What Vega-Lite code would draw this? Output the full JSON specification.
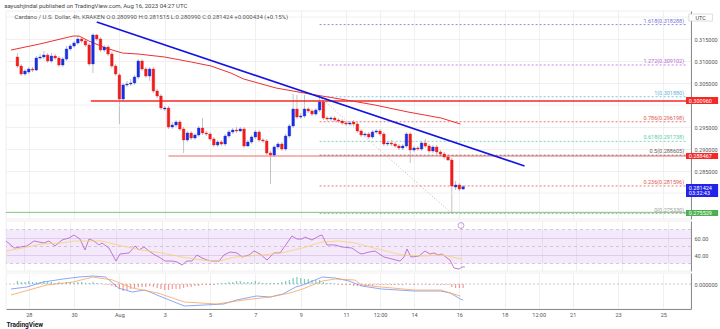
{
"$schema":"https://vega.github.io/schema/vega-lite/v6.json",
"padding":{"left":4,"top":2,"right":0,"bottom":0},
"background":"white",
"spacing":0,
"resolve":{"scale":{"color":"independent"}},
"title":{"text":"aayushjindal published on TradingView.com, Aug 16, 2023 04:27 UTC","anchor":"start","fontSize":6,"fontWeight":"normal","color":"#444","offset":2,"font":"Roboto"},
"config":{"view":{"stroke":"#e2e2e2","strokeWidth":0.6},"font":"Roboto","axisY":{"labelOverlap":false},"axis":{"labelOverlap":false}},
"datasets":{
"one":[{}],
"k":[
{"t":"2023-07-27T12:00:00Z","o":0.31091,"h":0.31182,"l":0.30841,"c":0.30886,"m":0.0003},
{"t":"2023-07-27T16:00:00Z","o":0.30886,"h":0.30932,"l":0.30659,"c":0.30705,"m":0.0002},
{"t":"2023-07-27T20:00:00Z","o":0.30705,"h":0.30818,"l":0.30659,"c":0.30773,"m":0.0002},
{"t":"2023-07-28T00:00:00Z","o":0.30750,"h":0.30864,"l":0.30705,"c":0.30818,"m":0.0003},
{"t":"2023-07-28T04:00:00Z","o":0.30818,"h":0.30864,"l":0.30750,"c":0.30795,"m":0.0002},
{"t":"2023-07-28T08:00:00Z","o":0.30795,"h":0.31114,"l":0.30773,"c":0.31068,"m":0.0002},
{"t":"2023-07-28T12:00:00Z","o":0.31068,"h":0.31159,"l":0.31023,"c":0.31091,"m":0.0002},
{"t":"2023-07-28T16:00:00Z","o":0.31091,"h":0.31227,"l":0.31045,"c":0.31136,"m":0.0003},
{"t":"2023-07-28T20:00:00Z","o":0.31136,"h":0.31182,"l":0.30955,"c":0.31000,"m":0.0002},
{"t":"2023-07-29T00:00:00Z","o":0.31000,"h":0.31182,"l":0.30955,"c":0.31114,"m":0.0002},
{"t":"2023-07-29T04:00:00Z","o":0.31114,"h":0.31159,"l":0.31023,"c":0.31068,"m":0.0001},
{"t":"2023-07-29T08:00:00Z","o":0.31068,"h":0.31114,"l":0.30864,"c":0.30909,"m":0.0002},
{"t":"2023-07-29T12:00:00Z","o":0.30909,"h":0.31091,"l":0.30864,"c":0.31045,"m":0.0001},
{"t":"2023-07-29T16:00:00Z","o":0.31045,"h":0.31341,"l":0.31000,"c":0.31273,"m":0.0002},
{"t":"2023-07-29T20:00:00Z","o":0.31273,"h":0.31386,"l":0.31227,"c":0.31341,"m":0.0002},
{"t":"2023-07-30T00:00:00Z","o":0.31341,"h":0.31455,"l":0.31295,"c":0.31409,"m":0.0001},
{"t":"2023-07-30T04:00:00Z","o":0.31409,"h":0.31568,"l":0.31364,"c":0.31500,"m":0.0002},
{"t":"2023-07-30T08:00:00Z","o":0.31500,"h":0.31545,"l":0.31409,"c":0.31455,"m":0.0002},
{"t":"2023-07-30T12:00:00Z","o":0.31455,"h":0.31500,"l":0.31318,"c":0.31364,"m":0.0001},
{"t":"2023-07-30T16:00:00Z","o":0.31364,"h":0.31409,"l":0.30886,"c":0.30932,"m":0.0001},
{"t":"2023-07-30T20:00:00Z","o":0.30932,"h":0.31636,"l":0.30727,"c":0.31591,"m":0.0002},
{"t":"2023-07-31T00:00:00Z","o":0.31591,"h":0.31614,"l":0.31455,"c":0.31500,"m":0.0001},
{"t":"2023-07-31T04:00:00Z","o":0.31500,"h":0.31545,"l":0.31205,"c":0.31250,"m":0.00005},
{"t":"2023-07-31T08:00:00Z","o":0.31250,"h":0.31364,"l":0.31205,"c":0.31318,"m":-0.00005},
{"t":"2023-07-31T12:00:00Z","o":0.31318,"h":0.31364,"l":0.31114,"c":0.31159,"m":-0.0001},
{"t":"2023-07-31T16:00:00Z","o":0.31159,"h":0.31205,"l":0.30841,"c":0.30886,"m":-0.0002},
{"t":"2023-07-31T20:00:00Z","o":0.30886,"h":0.30932,"l":0.30659,"c":0.30705,"m":-0.0003},
{"t":"2023-08-01T00:00:00Z","o":0.30682,"h":0.30727,"l":0.29568,"c":0.30136,"m":-0.0005},
{"t":"2023-08-01T04:00:00Z","o":0.30136,"h":0.30500,"l":0.30091,"c":0.30455,"m":-0.0007},
{"t":"2023-08-01T08:00:00Z","o":0.30455,"h":0.30545,"l":0.30409,"c":0.30477,"m":-0.0006},
{"t":"2023-08-01T12:00:00Z","o":0.30477,"h":0.30591,"l":0.30432,"c":0.30500,"m":-0.0005},
{"t":"2023-08-01T16:00:00Z","o":0.30500,"h":0.30682,"l":0.30455,"c":0.30636,"m":-0.0004},
{"t":"2023-08-01T20:00:00Z","o":0.30636,"h":0.31045,"l":0.30591,"c":0.31000,"m":-0.0003},
{"t":"2023-08-02T00:00:00Z","o":0.31000,"h":0.31045,"l":0.30773,"c":0.30818,"m":-0.0003},
{"t":"2023-08-02T04:00:00Z","o":0.30818,"h":0.30864,"l":0.30614,"c":0.30659,"m":-0.0003},
{"t":"2023-08-02T08:00:00Z","o":0.30659,"h":0.30864,"l":0.30545,"c":0.30818,"m":-0.0002},
{"t":"2023-08-02T12:00:00Z","o":0.30818,"h":0.30864,"l":0.30273,"c":0.30318,"m":-0.0003},
{"t":"2023-08-02T16:00:00Z","o":0.30318,"h":0.30364,"l":0.30159,"c":0.30205,"m":-0.0004},
{"t":"2023-08-02T20:00:00Z","o":0.30205,"h":0.30250,"l":0.29886,"c":0.29932,"m":-0.0005},
{"t":"2023-08-03T00:00:00Z","o":0.29909,"h":0.29977,"l":0.29864,"c":0.29932,"m":-0.0006},
{"t":"2023-08-03T04:00:00Z","o":0.29932,"h":0.29977,"l":0.29455,"c":0.29500,"m":-0.0006},
{"t":"2023-08-03T08:00:00Z","o":0.29500,"h":0.29614,"l":0.29455,"c":0.29545,"m":-0.0005},
{"t":"2023-08-03T12:00:00Z","o":0.29545,"h":0.29659,"l":0.29500,"c":0.29614,"m":-0.0005},
{"t":"2023-08-03T16:00:00Z","o":0.29614,"h":0.29659,"l":0.29409,"c":0.29455,"m":-0.0005},
{"t":"2023-08-03T20:00:00Z","o":0.29455,"h":0.29500,"l":0.28909,"c":0.29205,"m":-0.0004},
{"t":"2023-08-04T00:00:00Z","o":0.29205,"h":0.29409,"l":0.29159,"c":0.29364,"m":-0.0003},
{"t":"2023-08-04T04:00:00Z","o":0.29364,"h":0.29409,"l":0.29205,"c":0.29250,"m":-0.0003},
{"t":"2023-08-04T08:00:00Z","o":0.29250,"h":0.29364,"l":0.29205,"c":0.29318,"m":-0.0002},
{"t":"2023-08-04T12:00:00Z","o":0.29318,"h":0.29523,"l":0.29273,"c":0.29477,"m":-0.0002},
{"t":"2023-08-04T16:00:00Z","o":0.29477,"h":0.29705,"l":0.29318,"c":0.29364,"m":-0.0001},
{"t":"2023-08-04T20:00:00Z","o":0.29364,"h":0.29409,"l":0.29295,"c":0.29341,"m":-0.0001},
{"t":"2023-08-05T00:00:00Z","o":0.29341,"h":0.29386,"l":0.29182,"c":0.29227,"m":-0.0001},
{"t":"2023-08-05T04:00:00Z","o":0.29227,"h":0.29273,"l":0.29045,"c":0.29091,"m":-0.0001},
{"t":"2023-08-05T08:00:00Z","o":0.29091,"h":0.29205,"l":0.29045,"c":0.29159,"m":0.00005},
{"t":"2023-08-05T12:00:00Z","o":0.29159,"h":0.29205,"l":0.29068,"c":0.29114,"m":0.0001},
{"t":"2023-08-05T16:00:00Z","o":0.29114,"h":0.29341,"l":0.29068,"c":0.29295,"m":0.0001},
{"t":"2023-08-05T20:00:00Z","o":0.29295,"h":0.29432,"l":0.29250,"c":0.29386,"m":0.0002},
{"t":"2023-08-06T00:00:00Z","o":0.29386,"h":0.29477,"l":0.29341,"c":0.29432,"m":0.0002},
{"t":"2023-08-06T04:00:00Z","o":0.29432,"h":0.29500,"l":0.29364,"c":0.29409,"m":0.0003},
{"t":"2023-08-06T08:00:00Z","o":0.29409,"h":0.29500,"l":0.29386,"c":0.29455,"m":0.0003},
{"t":"2023-08-06T12:00:00Z","o":0.29455,"h":0.29500,"l":0.29023,"c":0.29068,"m":0.0002},
{"t":"2023-08-06T16:00:00Z","o":0.29068,"h":0.29205,"l":0.29045,"c":0.29159,"m":0.0002},
{"t":"2023-08-06T20:00:00Z","o":0.29159,"h":0.29318,"l":0.29114,"c":0.29273,"m":0.0002},
{"t":"2023-08-07T00:00:00Z","o":0.29273,"h":0.29432,"l":0.29227,"c":0.29386,"m":0.0003},
{"t":"2023-08-07T04:00:00Z","o":0.29386,"h":0.29432,"l":0.29159,"c":0.29205,"m":0.0002},
{"t":"2023-08-07T08:00:00Z","o":0.29205,"h":0.29250,"l":0.29136,"c":0.29182,"m":0.0001},
{"t":"2023-08-07T12:00:00Z","o":0.29182,"h":0.29227,"l":0.28864,"c":0.28909,"m":0.0001},
{"t":"2023-08-07T16:00:00Z","o":0.28909,"h":0.28955,"l":0.28205,"c":0.28864,"m":0.0001},
{"t":"2023-08-07T20:00:00Z","o":0.28864,"h":0.29091,"l":0.28818,"c":0.29045,"m":0.0001},
{"t":"2023-08-08T00:00:00Z","o":0.29045,"h":0.29159,"l":0.29000,"c":0.29114,"m":0.0001},
{"t":"2023-08-08T04:00:00Z","o":0.29114,"h":0.29159,"l":0.28955,"c":0.29000,"m":0.0002},
{"t":"2023-08-08T08:00:00Z","o":0.29000,"h":0.29341,"l":0.28955,"c":0.29295,"m":0.0003},
{"t":"2023-08-08T12:00:00Z","o":0.29295,"h":0.29568,"l":0.29250,"c":0.29523,"m":0.0004},
{"t":"2023-08-08T16:00:00Z","o":0.29523,"h":0.30250,"l":0.29477,"c":0.29909,"m":0.0006},
{"t":"2023-08-08T20:00:00Z","o":0.29909,"h":0.30227,"l":0.29682,"c":0.29727,"m":0.0007},
{"t":"2023-08-09T00:00:00Z","o":0.29727,"h":0.29818,"l":0.29682,"c":0.29750,"m":0.0006},
{"t":"2023-08-09T04:00:00Z","o":0.29750,"h":0.30227,"l":0.29705,"c":0.29909,"m":0.0005},
{"t":"2023-08-09T08:00:00Z","o":0.29909,"h":0.29955,"l":0.29818,"c":0.29864,"m":0.0005},
{"t":"2023-08-09T12:00:00Z","o":0.29864,"h":0.29909,"l":0.29750,"c":0.29795,"m":0.0004},
{"t":"2023-08-09T16:00:00Z","o":0.29795,"h":0.29932,"l":0.29750,"c":0.29886,"m":0.0004},
{"t":"2023-08-09T20:00:00Z","o":0.29886,"h":0.30188,"l":0.29841,"c":0.30068,"m":0.0004},
{"t":"2023-08-10T00:00:00Z","o":0.30068,"h":0.30114,"l":0.29659,"c":0.29705,"m":0.0002},
{"t":"2023-08-10T04:00:00Z","o":0.29705,"h":0.29750,"l":0.29636,"c":0.29682,"m":0.0001},
{"t":"2023-08-10T08:00:00Z","o":0.29682,"h":0.29750,"l":0.29636,"c":0.29705,"m":0.0001},
{"t":"2023-08-10T12:00:00Z","o":0.29705,"h":0.29750,"l":0.29614,"c":0.29659,"m":0.00005},
{"t":"2023-08-10T16:00:00Z","o":0.29659,"h":0.29705,"l":0.29591,"c":0.29636,"m":-0.00005},
{"t":"2023-08-10T20:00:00Z","o":0.29636,"h":0.29682,"l":0.29545,"c":0.29591,"m":-0.0001},
{"t":"2023-08-11T00:00:00Z","o":0.29591,"h":0.29636,"l":0.29523,"c":0.29568,"m":-0.0001},
{"t":"2023-08-11T04:00:00Z","o":0.29568,"h":0.29636,"l":0.29523,"c":0.29591,"m":-0.0001},
{"t":"2023-08-11T08:00:00Z","o":0.29614,"h":0.29659,"l":0.29523,"c":0.29568,"m":-0.0002},
{"t":"2023-08-11T12:00:00Z","o":0.29568,"h":0.29614,"l":0.29364,"c":0.29409,"m":-0.0002},
{"t":"2023-08-11T16:00:00Z","o":0.29409,"h":0.29455,"l":0.29273,"c":0.29318,"m":-0.0002},
{"t":"2023-08-11T20:00:00Z","o":0.29318,"h":0.29386,"l":0.29273,"c":0.29341,"m":-0.0002},
{"t":"2023-08-12T00:00:00Z","o":0.29341,"h":0.29386,"l":0.29227,"c":0.29273,"m":-0.0002},
{"t":"2023-08-12T04:00:00Z","o":0.29273,"h":0.29432,"l":0.29227,"c":0.29386,"m":-0.0002},
{"t":"2023-08-12T08:00:00Z","o":0.29386,"h":0.29455,"l":0.29341,"c":0.29409,"m":-0.0001},
{"t":"2023-08-12T12:00:00Z","o":0.29409,"h":0.29455,"l":0.29295,"c":0.29341,"m":-0.0001},
{"t":"2023-08-12T16:00:00Z","o":0.29341,"h":0.29386,"l":0.29068,"c":0.29114,"m":-0.0001},
{"t":"2023-08-12T20:00:00Z","o":0.29114,"h":0.29182,"l":0.29068,"c":0.29136,"m":-0.0001},
{"t":"2023-08-13T00:00:00Z","o":0.29136,"h":0.29205,"l":0.29068,"c":0.29114,"m":-0.0001},
{"t":"2023-08-13T04:00:00Z","o":0.29114,"h":0.29159,"l":0.29023,"c":0.29068,"m":-0.0001},
{"t":"2023-08-13T08:00:00Z","o":0.29068,"h":0.29114,"l":0.28977,"c":0.29023,"m":-0.0001},
{"t":"2023-08-13T12:00:00Z","o":0.29023,"h":0.29114,"l":0.28977,"c":0.29068,"m":-0.0001},
{"t":"2023-08-13T16:00:00Z","o":0.29068,"h":0.29386,"l":0.29023,"c":0.29341,"m":0.00005},
{"t":"2023-08-13T20:00:00Z","o":0.29341,"h":0.29386,"l":0.28682,"c":0.28977,"m":-0.00005},
{"t":"2023-08-14T00:00:00Z","o":0.28977,"h":0.29068,"l":0.28932,"c":0.29023,"m":-0.0001},
{"t":"2023-08-14T04:00:00Z","o":0.29023,"h":0.29068,"l":0.28955,"c":0.29000,"m":-0.00005},
{"t":"2023-08-14T08:00:00Z","o":0.29000,"h":0.29182,"l":0.28955,"c":0.29136,"m":-0.00005},
{"t":"2023-08-14T12:00:00Z","o":0.29136,"h":0.29227,"l":0.29023,"c":0.29068,"m":-0.00005},
{"t":"2023-08-14T16:00:00Z","o":0.29068,"h":0.29114,"l":0.28909,"c":0.28955,"m":-0.0001},
{"t":"2023-08-14T20:00:00Z","o":0.28955,"h":0.29091,"l":0.28909,"c":0.29045,"m":-0.00005},
{"t":"2023-08-15T00:00:00Z","o":0.29045,"h":0.29091,"l":0.28886,"c":0.28932,"m":-0.0001},
{"t":"2023-08-15T04:00:00Z","o":0.28932,"h":0.28977,"l":0.28841,"c":0.28886,"m":-0.0001},
{"t":"2023-08-15T08:00:00Z","o":0.28886,"h":0.28932,"l":0.28773,"c":0.28818,"m":-0.0001},
{"t":"2023-08-15T12:00:00Z","o":0.28818,"h":0.28864,"l":0.28727,"c":0.28750,"m":-0.0001},
{"t":"2023-08-15T16:00:00Z","o":0.28750,"h":0.28795,"l":0.27533,"c":0.28159,"m":-0.0003},
{"t":"2023-08-15T20:00:00Z","o":0.28136,"h":0.28273,"l":0.28068,"c":0.28182,"m":-0.0004},
{"t":"2023-08-16T00:00:00Z","o":0.28182,"h":0.28227,"l":0.28045,"c":0.28091,"m":-0.0004},
{"t":"2023-08-16T04:00:00Z","o":0.28091,"h":0.28182,"l":0.28068,"c":0.28142,"m":-0.0004}
],
"ema":[
{"t":"2023-07-27T05:15:00Z","v":0.31250},{"t":"2023-07-28T11:30:00Z","v":0.31386},{"t":"2023-07-29T23:00:00Z","v":0.31568},{"t":"2023-07-30T05:15:00Z","v":0.31568},{"t":"2023-07-30T15:40:00Z","v":0.31455},{"t":"2023-07-31T09:25:00Z","v":0.31295},{"t":"2023-08-01T03:10:00Z","v":0.31182},{"t":"2023-08-01T19:50:00Z","v":0.31159},{"t":"2023-08-03T00:00:00Z","v":0.31091},{"t":"2023-08-04T04:10:00Z","v":0.30977},{"t":"2023-08-05T01:05:00Z","v":0.30886},{"t":"2023-08-05T22:00:00Z","v":0.30727},{"t":"2023-08-06T11:35:00Z","v":0.30591},{"t":"2023-08-07T22:00:00Z","v":0.30386},{"t":"2023-08-09T09:40:00Z","v":0.30250},{"t":"2023-08-11T06:20:00Z","v":0.30091},{"t":"2023-08-12T06:30:00Z","v":0.30000},{"t":"2023-08-13T17:40:00Z","v":0.29841},{"t":"2023-08-15T04:30:00Z","v":0.29705},{"t":"2023-08-16T01:10:00Z","v":0.29568}
],
"fib":[
{"level":"1.618","price":0.318288,"label":"1.618(0.318288)"},
{"level":"1.272","price":0.309102,"label":"1.272(0.309102)"},
{"level":"1","price":0.301880,"label":"1(0.301880)"},
{"level":"0.786","price":0.296198,"label":"0.786(0.296198)"},
{"level":"0.618","price":0.291738,"label":"0.618(0.291738)"},
{"level":"0.5","price":0.288605,"label":"0.5(0.288605)"},
{"level":"0.236","price":0.281596,"label":"0.236(0.281596)"},
{"level":"0","price":0.275330,"label":"0(0.275330)"}
],
"rsi":[
{"t":"2023-07-27T05:15:00Z","v":56.5,"s":"RSI"},{"t":"2023-07-27T14:00:00Z","v":48.2,"s":"RSI"},{"t":"2023-07-27T20:00:00Z","v":49.4,"s":"RSI"},{"t":"2023-07-28T03:00:00Z","v":50.6,"s":"RSI"},{"t":"2023-07-28T10:30:00Z","v":56.5,"s":"RSI"},{"t":"2023-07-28T15:40:00Z","v":55.3,"s":"RSI"},{"t":"2023-07-28T20:50:00Z","v":54.1,"s":"RSI"},{"t":"2023-07-29T02:05:00Z","v":56.5,"s":"RSI"},{"t":"2023-07-29T08:20:00Z","v":50.6,"s":"RSI"},{"t":"2023-07-29T15:40:00Z","v":57.6,"s":"RSI"},{"t":"2023-07-29T23:00:00Z","v":60.0,"s":"RSI"},{"t":"2023-07-30T04:10:00Z","v":63.5,"s":"RSI"},{"t":"2023-07-30T10:25:00Z","v":58.8,"s":"RSI"},{"t":"2023-07-30T15:40:00Z","v":45.9,"s":"RSI"},{"t":"2023-07-30T19:50:00Z","v":58.8,"s":"RSI"},{"t":"2023-07-31T01:00:00Z","v":56.5,"s":"RSI"},{"t":"2023-07-31T06:15:00Z","v":51.8,"s":"RSI"},{"t":"2023-07-31T09:25:00Z","v":54.1,"s":"RSI"},{"t":"2023-07-31T16:40:00Z","v":48.2,"s":"RSI"},{"t":"2023-08-01T00:00:00Z","v":32.9,"s":"RSI"},{"t":"2023-08-01T04:10:00Z","v":41.2,"s":"RSI"},{"t":"2023-08-01T13:35:00Z","v":42.4,"s":"RSI"},{"t":"2023-08-01T19:50:00Z","v":50.6,"s":"RSI"},{"t":"2023-08-02T00:00:00Z","v":45.9,"s":"RSI"},{"t":"2023-08-02T05:10:00Z","v":49.4,"s":"RSI"},{"t":"2023-08-02T10:25:00Z","v":44.7,"s":"RSI"},{"t":"2023-08-02T16:40:00Z","v":40.0,"s":"RSI"},{"t":"2023-08-02T20:50:00Z","v":37.6,"s":"RSI"},{"t":"2023-08-03T03:10:00Z","v":32.9,"s":"RSI"},{"t":"2023-08-03T10:25:00Z","v":32.9,"s":"RSI"},{"t":"2023-08-03T15:40:00Z","v":31.8,"s":"RSI"},{"t":"2023-08-03T20:50:00Z","v":28.2,"s":"RSI"},{"t":"2023-08-04T02:05:00Z","v":32.9,"s":"RSI"},{"t":"2023-08-04T07:15:00Z","v":32.9,"s":"RSI"},{"t":"2023-08-04T12:30:00Z","v":40.0,"s":"RSI"},{"t":"2023-08-04T17:45:00Z","v":36.5,"s":"RSI"},{"t":"2023-08-04T23:00:00Z","v":34.1,"s":"RSI"},{"t":"2023-08-05T04:10:00Z","v":32.9,"s":"RSI"},{"t":"2023-08-05T11:30:00Z","v":32.9,"s":"RSI"},{"t":"2023-08-05T16:40:00Z","v":40.0,"s":"RSI"},{"t":"2023-08-05T23:00:00Z","v":43.5,"s":"RSI"},{"t":"2023-08-06T06:15:00Z","v":42.4,"s":"RSI"},{"t":"2023-08-06T11:30:00Z","v":37.6,"s":"RSI"},{"t":"2023-08-06T18:45:00Z","v":40.0,"s":"RSI"},{"t":"2023-08-07T00:00:00Z","v":44.7,"s":"RSI"},{"t":"2023-08-07T06:15:00Z","v":41.2,"s":"RSI"},{"t":"2023-08-07T13:35:00Z","v":34.1,"s":"RSI"},{"t":"2023-08-07T20:50:00Z","v":42.4,"s":"RSI"},{"t":"2023-08-08T03:10:00Z","v":42.4,"s":"RSI"},{"t":"2023-08-08T08:20:00Z","v":50.6,"s":"RSI"},{"t":"2023-08-08T15:40:00Z","v":62.4,"s":"RSI"},{"t":"2023-08-08T20:50:00Z","v":58.8,"s":"RSI"},{"t":"2023-08-09T02:05:00Z","v":58.8,"s":"RSI"},{"t":"2023-08-09T05:10:00Z","v":61.2,"s":"RSI"},{"t":"2023-08-09T12:30:00Z","v":57.6,"s":"RSI"},{"t":"2023-08-09T19:50:00Z","v":62.4,"s":"RSI"},{"t":"2023-08-09T23:00:00Z","v":63.5,"s":"RSI"},{"t":"2023-08-10T04:10:00Z","v":51.8,"s":"RSI"},{"t":"2023-08-10T12:30:00Z","v":51.8,"s":"RSI"},{"t":"2023-08-10T19:50:00Z","v":49.4,"s":"RSI"},{"t":"2023-08-11T06:15:00Z","v":48.2,"s":"RSI"},{"t":"2023-08-11T13:35:00Z","v":42.4,"s":"RSI"},{"t":"2023-08-11T16:40:00Z","v":41.2,"s":"RSI"},{"t":"2023-08-12T00:00:00Z","v":43.5,"s":"RSI"},{"t":"2023-08-12T06:15:00Z","v":44.7,"s":"RSI"},{"t":"2023-08-12T15:40:00Z","v":37.6,"s":"RSI"},{"t":"2023-08-13T00:00:00Z","v":35.3,"s":"RSI"},{"t":"2023-08-13T08:20:00Z","v":32.9,"s":"RSI"},{"t":"2023-08-13T12:30:00Z","v":37.6,"s":"RSI"},{"t":"2023-08-13T15:40:00Z","v":47.1,"s":"RSI"},{"t":"2023-08-13T19:50:00Z","v":37.6,"s":"RSI"},{"t":"2023-08-14T04:10:00Z","v":38.8,"s":"RSI"},{"t":"2023-08-14T10:25:00Z","v":44.7,"s":"RSI"},{"t":"2023-08-14T15:40:00Z","v":41.2,"s":"RSI"},{"t":"2023-08-14T19:50:00Z","v":42.4,"s":"RSI"},{"t":"2023-08-15T00:00:00Z","v":40.0,"s":"RSI"},{"t":"2023-08-15T04:10:00Z","v":41.2,"s":"RSI"},{"t":"2023-08-15T09:25:00Z","v":36.5,"s":"RSI"},{"t":"2023-08-15T12:30:00Z","v":34.1,"s":"RSI"},{"t":"2023-08-15T16:40:00Z","v":24.7,"s":"RSI"},{"t":"2023-08-15T21:55:00Z","v":23.5,"s":"RSI"},{"t":"2023-08-16T01:00:00Z","v":25.9,"s":"RSI"},{"t":"2023-08-16T04:00:00Z","v":25.9,"s":"RSI"},
{"t":"2023-07-27T05:15:00Z","v":44.7,"s":"MA"},{"t":"2023-07-27T22:00:00Z","v":48.2,"s":"MA"},{"t":"2023-07-28T18:45:00Z","v":52.9,"s":"MA"},{"t":"2023-07-29T15:40:00Z","v":54.1,"s":"MA"},{"t":"2023-07-30T04:10:00Z","v":56.5,"s":"MA"},{"t":"2023-07-31T09:25:00Z","v":56.5,"s":"MA"},{"t":"2023-08-01T06:15:00Z","v":50.6,"s":"MA"},{"t":"2023-08-02T03:10:00Z","v":45.9,"s":"MA"},{"t":"2023-08-03T00:00:00Z","v":42.4,"s":"MA"},{"t":"2023-08-03T20:50:00Z","v":37.6,"s":"MA"},{"t":"2023-08-04T17:45:00Z","v":34.1,"s":"MA"},{"t":"2023-08-05T11:30:00Z","v":32.9,"s":"MA"},{"t":"2023-08-06T04:10:00Z","v":37.6,"s":"MA"},{"t":"2023-08-07T08:20:00Z","v":40.0,"s":"MA"},{"t":"2023-08-08T05:10:00Z","v":42.4,"s":"MA"},{"t":"2023-08-09T02:05:00Z","v":48.2,"s":"MA"},{"t":"2023-08-09T23:00:00Z","v":55.3,"s":"MA"},{"t":"2023-08-10T16:40:00Z","v":56.5,"s":"MA"},{"t":"2023-08-11T09:25:00Z","v":54.1,"s":"MA"},{"t":"2023-08-11T16:40:00Z","v":51.8,"s":"MA"},{"t":"2023-08-12T13:35:00Z","v":45.9,"s":"MA"},{"t":"2023-08-13T10:25:00Z","v":40.0,"s":"MA"},{"t":"2023-08-14T07:15:00Z","v":38.8,"s":"MA"},{"t":"2023-08-15T04:10:00Z","v":40.0,"s":"MA"},{"t":"2023-08-16T01:00:00Z","v":35.3,"s":"MA"}
],
"macd":[
{"t":"2023-07-27T05:15:00Z","v":-0.0005,"s":"MACD"},{"t":"2023-07-27T22:00:00Z","v":-0.0003,"s":"MACD"},{"t":"2023-07-28T15:40:00Z","v":0.0002,"s":"MACD"},{"t":"2023-07-29T12:30:00Z","v":0.0005,"s":"MACD"},{"t":"2023-07-30T05:15:00Z","v":0.0007,"s":"MACD"},{"t":"2023-07-30T19:50:00Z","v":0.0008,"s":"MACD"},{"t":"2023-07-31T09:25:00Z","v":0.0007,"s":"MACD"},{"t":"2023-07-31T23:00:00Z","v":-0.0004,"s":"MACD"},{"t":"2023-08-01T13:35:00Z","v":-0.0008,"s":"MACD"},{"t":"2023-08-02T03:10:00Z","v":-0.0006,"s":"MACD"},{"t":"2023-08-02T20:50:00Z","v":-0.0013,"s":"MACD"},{"t":"2023-08-03T20:50:00Z","v":-0.0022,"s":"MACD"},{"t":"2023-08-04T17:45:00Z","v":-0.0021,"s":"MACD"},{"t":"2023-08-05T14:25:00Z","v":-0.0020,"s":"MACD"},{"t":"2023-08-06T04:10:00Z","v":-0.0016,"s":"MACD"},{"t":"2023-08-07T01:00:00Z","v":-0.0012,"s":"MACD"},{"t":"2023-08-07T15:40:00Z","v":-0.0013,"s":"MACD"},{"t":"2023-08-08T05:10:00Z","v":-0.0010,"s":"MACD"},{"t":"2023-08-08T18:45:00Z","v":-0.0003,"s":"MACD"},{"t":"2023-08-09T02:05:00Z","v":-0.0001,"s":"MACD"},{"t":"2023-08-09T23:00:00Z","v":0.0007,"s":"MACD"},{"t":"2023-08-10T12:30:00Z","v":0.0006,"s":"MACD"},{"t":"2023-08-11T03:10:00Z","v":0.0003,"s":"MACD"},{"t":"2023-08-11T16:40:00Z","v":-0.0002,"s":"MACD"},{"t":"2023-08-12T13:35:00Z","v":-0.0005,"s":"MACD"},{"t":"2023-08-14T00:00:00Z","v":-0.0007,"s":"MACD"},{"t":"2023-08-15T04:10:00Z","v":-0.0007,"s":"MACD"},{"t":"2023-08-15T14:25:00Z","v":-0.0009,"s":"MACD"},{"t":"2023-08-16T01:00:00Z","v":-0.0015,"s":"MACD"},{"t":"2023-08-16T04:00:00Z","v":-0.0016,"s":"MACD"},
{"t":"2023-07-27T05:15:00Z","v":-0.0011,"s":"Signal"},{"t":"2023-07-28T18:45:00Z","v":-0.0001,"s":"Signal"},{"t":"2023-07-29T23:00:00Z","v":0.0002,"s":"Signal"},{"t":"2023-07-30T19:50:00Z","v":0.0007,"s":"Signal"},{"t":"2023-07-31T16:40:00Z","v":0.0004,"s":"Signal"},{"t":"2023-08-01T13:35:00Z","v":-0.0004,"s":"Signal"},{"t":"2023-08-02T16:40:00Z","v":-0.0009,"s":"Signal"},{"t":"2023-08-03T20:50:00Z","v":-0.0018,"s":"Signal"},{"t":"2023-08-05T07:15:00Z","v":-0.0020,"s":"Signal"},{"t":"2023-08-06T11:30:00Z","v":-0.0016,"s":"Signal"},{"t":"2023-08-07T15:40:00Z","v":-0.0013,"s":"Signal"},{"t":"2023-08-08T12:30:00Z","v":-0.0009,"s":"Signal"},{"t":"2023-08-09T02:05:00Z","v":-0.0005,"s":"Signal"},{"t":"2023-08-09T23:00:00Z","v":0.0003,"s":"Signal"},{"t":"2023-08-10T12:30:00Z","v":0.0005,"s":"Signal"},{"t":"2023-08-11T09:25:00Z","v":0.0004,"s":"Signal"},{"t":"2023-08-11T16:40:00Z","v":-0.0001,"s":"Signal"},{"t":"2023-08-12T13:35:00Z","v":-0.0003,"s":"Signal"},{"t":"2023-08-14T00:00:00Z","v":-0.0006,"s":"Signal"},{"t":"2023-08-15T04:10:00Z","v":-0.0006,"s":"Signal"},{"t":"2023-08-16T01:00:00Z","v":-0.0012,"s":"Signal"}
]
},
"vconcat":[
{
"width":685,"height":208,
"layer":[
{"data":{"name":"k"},"mark":{"type":"rule","color":"#9a9a9a","strokeWidth":0.6},
 "encoding":{
  "x":{"field":"t","type":"temporal","scale":{"type":"utc","domain":[{"year":2023,"month":7,"date":27,"hours":5,"minutes":13,"utc":true},{"year":2023,"month":8,"date":26,"utc":true}]},
   "axis":{"values":[{"year":2023,"month":7,"date":28,"utc":true},{"year":2023,"month":7,"date":30,"utc":true},{"year":2023,"month":8,"date":1,"utc":true},{"year":2023,"month":8,"date":3,"utc":true},{"year":2023,"month":8,"date":5,"utc":true},{"year":2023,"month":8,"date":7,"utc":true},{"year":2023,"month":8,"date":9,"utc":true},{"year":2023,"month":8,"date":11,"utc":true},{"year":2023,"month":8,"date":12,"hours":12,"utc":true},{"year":2023,"month":8,"date":14,"utc":true},{"year":2023,"month":8,"date":16,"utc":true},{"year":2023,"month":8,"date":18,"utc":true},{"year":2023,"month":8,"date":19,"hours":12,"utc":true},{"year":2023,"month":8,"date":21,"utc":true},{"year":2023,"month":8,"date":23,"utc":true},{"year":2023,"month":8,"date":25,"utc":true}],"grid":true,"gridColor":"#ececec","gridWidth":0.8,"labels":false,"ticks":false,"domain":false,"title":null}},
  "y":{"field":"l","type":"quantitative","scale":{"domain":[0.27409,0.32137],"nice":false,"zero":false},
   "axis":{"orient":"right","values":[0.285,0.29,0.295,0.305,0.31,0.315],"format":".6f","labelOverlap":false,"grid":true,"gridColor":"#ececec","gridWidth":0.8,"ticks":false,"domain":true,"domainColor":"#8a8a8a","labelFontSize":5.5,"labelColor":"#555","labelPadding":3,"title":null}},
  "y2":{"field":"h"}}},
{"data":{"name":"one"},"mark":{"type":"rule","color":"#ececec","strokeWidth":0.8},"encoding":{"y":{"datum":0.32}}},
{"data":{"name":"one"},"mark":{"type":"rule","color":"#ececec","strokeWidth":0.8},"encoding":{"y":{"datum":0.30}}},
{"data":{"name":"one"},"mark":{"type":"rule","color":"#ececec","strokeWidth":0.8},"encoding":{"y":{"datum":0.28}}},
{"data":{"name":"one"},"mark":{"type":"rule","color":"#7cc47f","strokeWidth":1},"encoding":{"y":{"datum":0.2756}}},
{"data":{"name":"one"},"mark":{"type":"rule","color":"#f52828","strokeWidth":1.4},"encoding":{"x":{"datum":{"year":2023,"month":7,"date":30,"hours":17,"minutes":45,"utc":true},"type":"temporal"},"x2":{"datum":{"year":2023,"month":8,"date":26,"utc":true}},"y":{"datum":0.30091}}},
{"data":{"name":"one"},"mark":{"type":"rule","color":"#f06a6a","strokeWidth":1},"encoding":{"x":{"datum":{"year":2023,"month":8,"date":3,"hours":4,"utc":true},"type":"temporal"},"x2":{"datum":{"year":2023,"month":8,"date":26,"utc":true}},"y":{"datum":0.28841}}},
{"data":{"name":"fib"},"mark":{"type":"rule","strokeWidth":0.8,"strokeDash":[2,2]},
 "encoding":{"x":{"datum":{"year":2023,"month":8,"date":9,"hours":20,"utc":true},"type":"temporal"},"x2":{"datum":{"year":2023,"month":8,"date":26,"utc":true}},"y":{"field":"price","type":"quantitative"},
  "color":{"field":"level","type":"nominal","legend":null,"scale":{"domain":["1.618","1.272","1","0.786","0.618","0.5","0.236","0"],"range":["#7474d8","#b46ad8","#62b6da","#e05656","#5cc9a6","#6a6060","#e05656","#9e9e9e"]}}}},
{"data":{"name":"fib"},"mark":{"type":"text","align":"right","baseline":"bottom","dy":-1,"fontSize":5.5,"font":"Roboto"},
 "encoding":{"x":{"datum":{"year":2023,"month":8,"date":25,"hours":22,"utc":true},"type":"temporal"},"y":{"field":"price","type":"quantitative"},"text":{"field":"label"},"color":{"field":"level","type":"nominal","legend":null}}},
{"data":{"name":"one"},"mark":{"type":"rule","color":"#a8a8a8","strokeWidth":0.8,"strokeDash":[1,2]},"encoding":{"x":{"datum":{"year":2023,"month":8,"date":9,"hours":20,"utc":true},"type":"temporal"},"x2":{"datum":{"year":2023,"month":8,"date":15,"hours":16,"utc":true}},"y":{"datum":0.30188},"y2":{"datum":0.27533}}},
{"data":{"name":"ema"},"mark":{"type":"line","color":"#f03030","strokeWidth":1},"encoding":{"x":{"field":"t","type":"temporal"},"y":{"field":"v","type":"quantitative"}}},
{"data":{"name":"one"},"mark":{"type":"rule","color":"#1212e2","strokeWidth":1.6},"encoding":{"x":{"datum":{"year":2023,"month":7,"date":31,"utc":true},"type":"temporal"},"x2":{"datum":{"year":2023,"month":8,"date":18,"hours":21,"utc":true}},"y":{"datum":0.31887},"y2":{"datum":0.28614}}},
{"data":{"name":"k"},"mark":{"type":"bar","size":2.6,"strokeWidth":0.4},
 "encoding":{"x":{"field":"t","type":"temporal"},"y":{"field":"o","type":"quantitative"},"y2":{"field":"c"},
  "color":{"condition":{"test":"datum.c >= datum.o","value":"#1a2ee0"},"value":"#f01c1c"},
  "stroke":{"condition":{"test":"datum.c >= datum.o","value":"#1a2ee0"},"value":"#f01c1c"}}},
{"data":{"name":"one"},"mark":{"type":"text","align":"left","baseline":"middle","fontSize":6,"color":"#555","font":"Roboto"},"encoding":{"x":{"datum":{"year":2023,"month":7,"date":27,"hours":9,"utc":true},"type":"temporal"},"y":{"datum":0.3200},"text":{"value":"Cardano / U.S. Dollar, 4h, KRAKEN  O:0.280990  H:0.281515  L:0.280990  C:0.281424  +0.000434 (+0.15%)"}}},
{"data":{"name":"one"},"mark":{"type":"rect","fill":"white","stroke":"#c8c8c8","strokeWidth":0.6,"clip":false},"encoding":{"x":{"datum":{"year":2023,"month":8,"date":26,"hours":3,"utc":true},"type":"temporal"},"x2":{"datum":{"year":2023,"month":8,"date":27,"hours":4,"utc":true}},"y":{"datum":0.32068},"y2":{"datum":0.31909}}},
{"data":{"name":"one"},"mark":{"type":"text","align":"center","baseline":"middle","fontSize":5.5,"color":"#444","clip":false},"encoding":{"x":{"datum":{"year":2023,"month":8,"date":26,"hours":15,"minutes":30,"utc":true},"type":"temporal"},"y":{"datum":0.31989},"text":{"value":"UTC"}}},
{"data":{"name":"one"},"mark":{"type":"rect","fill":"#f52828","clip":false},"encoding":{"x":{"datum":{"year":2023,"month":8,"date":26,"utc":true},"type":"temporal"},"x2":{"datum":{"year":2023,"month":8,"date":27,"hours":10,"utc":true}},"y":{"datum":0.30182},"y2":{"datum":0.30023}}},
{"data":{"name":"one"},"mark":{"type":"text","align":"left","baseline":"middle","fontSize":5.5,"color":"white","clip":false},"encoding":{"x":{"datum":{"year":2023,"month":8,"date":26,"hours":3,"utc":true},"type":"temporal"},"y":{"datum":0.30102},"text":{"value":"0.300960"}}},
{"data":{"name":"one"},"mark":{"type":"rect","fill":"#f52828","clip":false},"encoding":{"x":{"datum":{"year":2023,"month":8,"date":26,"utc":true},"type":"temporal"},"x2":{"datum":{"year":2023,"month":8,"date":27,"hours":10,"utc":true}},"y":{"datum":0.28909},"y2":{"datum":0.28773}}},
{"data":{"name":"one"},"mark":{"type":"text","align":"left","baseline":"middle","fontSize":5.5,"color":"white","clip":false},"encoding":{"x":{"datum":{"year":2023,"month":8,"date":26,"hours":3,"utc":true},"type":"temporal"},"y":{"datum":0.28841},"text":{"value":"0.288467"}}},
{"data":{"name":"one"},"mark":{"type":"rect","fill":"#2222e8","clip":false},"encoding":{"x":{"datum":{"year":2023,"month":8,"date":26,"utc":true},"type":"temporal"},"x2":{"datum":{"year":2023,"month":8,"date":27,"hours":10,"utc":true}},"y":{"datum":0.28205},"y2":{"datum":0.27909}}},
{"data":{"name":"one"},"mark":{"type":"text","align":"left","baseline":"middle","fontSize":5.5,"color":"white","clip":false},"encoding":{"x":{"datum":{"year":2023,"month":8,"date":26,"hours":3,"utc":true},"type":"temporal"},"y":{"datum":0.28125},"text":{"value":"0.281424"}}},
{"data":{"name":"one"},"mark":{"type":"text","align":"left","baseline":"middle","fontSize":5.5,"color":"white","clip":false},"encoding":{"x":{"datum":{"year":2023,"month":8,"date":26,"hours":3,"utc":true},"type":"temporal"},"y":{"datum":0.27989},"text":{"value":"03:32:43"}}},
{"data":{"name":"one"},"mark":{"type":"rect","fill":"#4caf50","clip":false},"encoding":{"x":{"datum":{"year":2023,"month":8,"date":26,"utc":true},"type":"temporal"},"x2":{"datum":{"year":2023,"month":8,"date":27,"hours":10,"utc":true}},"y":{"datum":0.27614},"y2":{"datum":0.27477}}},
{"data":{"name":"one"},"mark":{"type":"text","align":"left","baseline":"middle","fontSize":5.5,"color":"white","clip":false},"encoding":{"x":{"datum":{"year":2023,"month":8,"date":26,"hours":3,"utc":true},"type":"temporal"},"y":{"datum":0.27546},"text":{"value":"0.275529"}}}
]
},
{
"width":685,"height":50,
"layer":[
{"data":{"name":"one"},"mark":{"type":"rect","fill":"#b46ae0","opacity":0.15},
 "encoding":{
  "x":{"datum":{"year":2023,"month":7,"date":27,"hours":5,"minutes":13,"utc":true},"type":"temporal","scale":{"type":"utc","domain":[{"year":2023,"month":7,"date":27,"hours":5,"minutes":13,"utc":true},{"year":2023,"month":8,"date":26,"utc":true}]},
   "axis":{"values":[{"year":2023,"month":7,"date":28,"utc":true},{"year":2023,"month":7,"date":30,"utc":true},{"year":2023,"month":8,"date":1,"utc":true},{"year":2023,"month":8,"date":3,"utc":true},{"year":2023,"month":8,"date":5,"utc":true},{"year":2023,"month":8,"date":7,"utc":true},{"year":2023,"month":8,"date":9,"utc":true},{"year":2023,"month":8,"date":11,"utc":true},{"year":2023,"month":8,"date":12,"hours":12,"utc":true},{"year":2023,"month":8,"date":14,"utc":true},{"year":2023,"month":8,"date":16,"utc":true},{"year":2023,"month":8,"date":18,"utc":true},{"year":2023,"month":8,"date":19,"hours":12,"utc":true},{"year":2023,"month":8,"date":21,"utc":true},{"year":2023,"month":8,"date":23,"utc":true},{"year":2023,"month":8,"date":25,"utc":true}],"grid":true,"gridColor":"#ececec","gridWidth":0.8,"labels":false,"ticks":false,"domain":false,"title":null}},
  "x2":{"datum":{"year":2023,"month":8,"date":26,"utc":true}},
  "y":{"datum":30,"type":"quantitative","scale":{"domain":[21.18,80],"nice":false,"zero":false},
   "axis":{"orient":"right","values":[40,60],"format":".2f","grid":true,"gridColor":"#e3d3ec","gridWidth":0.8,"ticks":false,"domain":true,"domainColor":"#8a8a8a","labelFontSize":5.5,"labelColor":"#555","labelPadding":3,"title":null}},
  "y2":{"datum":70}}},
{"data":{"name":"one"},"mark":{"type":"rule","color":"#c4b4cc","strokeWidth":0.7,"strokeDash":[3,3]},"encoding":{"y":{"datum":70}}},
{"data":{"name":"one"},"mark":{"type":"rule","color":"#c4b4cc","strokeWidth":0.7,"strokeDash":[3,3]},"encoding":{"y":{"datum":50}}},
{"data":{"name":"one"},"mark":{"type":"rule","color":"#c4b4cc","strokeWidth":0.7,"strokeDash":[3,3]},"encoding":{"y":{"datum":30}}},
{"data":{"name":"rsi"},"mark":{"type":"line","strokeWidth":0.8},"encoding":{"x":{"field":"t","type":"temporal"},"y":{"field":"v","type":"quantitative"},"color":{"field":"s","type":"nominal","legend":null,"scale":{"domain":["RSI","MA"],"range":["#b05cc8","#f6d06e"]}}}},
{"data":{"name":"one"},"mark":{"type":"point","shape":"circle","size":35,"filled":false,"stroke":"#9c4dcc","strokeWidth":0.8},"encoding":{"x":{"datum":{"year":2023,"month":8,"date":16,"utc":true},"type":"temporal"},"y":{"datum":74.7}}}
]
},
{
"width":685,"height":36,
"layer":[
{"data":{"name":"one"},"mark":{"type":"rule","color":"#b0b0b0","strokeWidth":0.7,"strokeDash":[2,2]},
 "encoding":{"y":{"datum":0,"type":"quantitative","scale":{"domain":[-0.0025,0.0011],"nice":false,"zero":false},
   "axis":{"orient":"right","values":[0],"format":".6f","grid":false,"ticks":false,"domain":true,"domainColor":"#8a8a8a","labelFontSize":5.5,"labelColor":"#555","labelPadding":3,"title":null}}}},
{"data":{"name":"k"},"mark":{"type":"bar","size":1.2,"opacity":0.6},
 "encoding":{
  "x":{"field":"t","type":"temporal","scale":{"type":"utc","domain":[{"year":2023,"month":7,"date":27,"hours":5,"minutes":13,"utc":true},{"year":2023,"month":8,"date":26,"utc":true}]},
   "axis":{"values":[{"year":2023,"month":7,"date":28,"utc":true},{"year":2023,"month":7,"date":30,"utc":true},{"year":2023,"month":8,"date":1,"utc":true},{"year":2023,"month":8,"date":3,"utc":true},{"year":2023,"month":8,"date":5,"utc":true},{"year":2023,"month":8,"date":7,"utc":true},{"year":2023,"month":8,"date":9,"utc":true},{"year":2023,"month":8,"date":11,"utc":true},{"year":2023,"month":8,"date":12,"hours":12,"utc":true},{"year":2023,"month":8,"date":14,"utc":true},{"year":2023,"month":8,"date":16,"utc":true},{"year":2023,"month":8,"date":18,"utc":true},{"year":2023,"month":8,"date":19,"hours":12,"utc":true},{"year":2023,"month":8,"date":21,"utc":true},{"year":2023,"month":8,"date":23,"utc":true},{"year":2023,"month":8,"date":25,"utc":true}],
    "labelExpr":"utcdate(datum.value) == 1 ? 'Aug' : (utchours(datum.value) == 12 ? '12:00' : '' + utcdate(datum.value))",
    "grid":true,"gridColor":"#ececec","gridWidth":0.8,"ticks":false,"domain":true,"domainColor":"#8a8a8a","labelFontSize":5.5,"labelColor":"#555","labelPadding":3,"labelFlush":false,
    "title":"TradingView","titleFontSize":6.5,"titleFontWeight":"bold","titleColor":"#131722","titleAnchor":"start","titlePadding":4}},
  "y":{"field":"m","type":"quantitative"},
  "y2":{"datum":0},
  "color":{"condition":{"test":"datum.m >= 0","value":"#26a69a"},"value":"#ef5350"}}},
{"data":{"name":"macd"},"mark":{"type":"line","strokeWidth":0.8},"encoding":{"x":{"field":"t","type":"temporal"},"y":{"field":"v","type":"quantitative"},"color":{"field":"s","type":"nominal","legend":null,"scale":{"domain":["MACD","Signal"],"range":["#6e92f5","#f8a25e"]}}}}
]
}
]
}
